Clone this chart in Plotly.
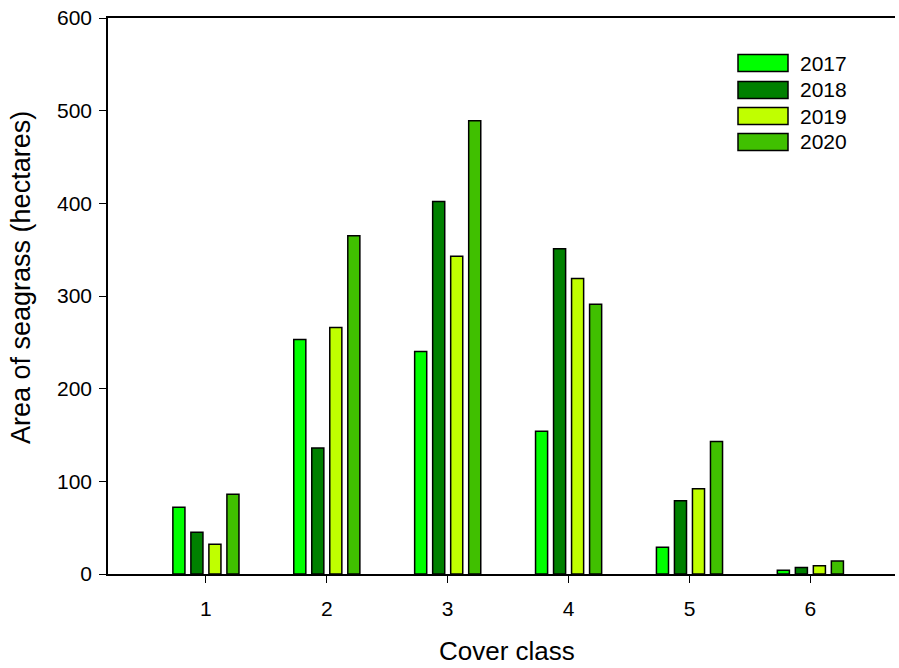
import plotly.graph_objects as go

cover_class = [1, 2, 3, 4, 5, 6]
years = ["2017", "2018", "2019", "2020"]
area_2017 = [72, 253, 240, 154, 29, 4]
area_2018 = [45, 136, 402, 351, 79, 7]
area_2019 = [32, 266, 343, 319, 92, 9]
area_2020 = [86, 365, 489, 291, 143, 14]
series = [area_2017, area_2018, area_2019, area_2020]
colors = ["#00FF00", "#008000", "#C0FF00", "#40C000"]
y_ticks = [0, 100, 200, 300, 400, 500, 600]

FONT = "Arial, Liberation Sans, sans-serif"
W, H = 899, 668
L, R, T, B = 108, 4, 18, 94

fig = go.Figure()
for name, vals, col in zip(years, series, colors):
    fig.add_trace(go.Bar(
        x=cover_class, y=vals, name=name,
        marker=dict(color=col, line=dict(color="black", width=1.5)),
        showlegend=False,
    ))

# custom legend (large rectangular swatches as in the reference)
pw, ph = W - L - R, H - T - B
def px(x):
    return (x - L) / pw
def py(y):
    return (H - B - y) / ph

row_centers = [63, 90, 116, 142]
shapes = []
annotations = []
for name, col, cy in zip(years, colors, row_centers):
    shapes.append(dict(type="rect", xref="paper", yref="paper",
                       x0=px(738), x1=px(788), y0=py(cy + 8.5), y1=py(cy - 8.5),
                       fillcolor=col, line=dict(color="black", width=1.5)))
    annotations.append(dict(text=name, xref="paper", yref="paper",
                            x=px(798), y=py(cy), xanchor="left", yanchor="middle",
                            showarrow=False, font=dict(family=FONT, size=21, color="black")))

annotations.append(dict(text="Cover class", xref="paper", yref="paper",
                        x=px(507), y=py(667), xanchor="center", yanchor="bottom",
                        borderpad=0,
                        showarrow=False, font=dict(family=FONT, size=26, color="black")))
annotations.append(dict(text="Area of seagrass (hectares)", xref="paper", yref="paper",
                        x=px(21), y=py(278), xanchor="center", yanchor="middle", textangle=-90,
                        showarrow=False, font=dict(family=FONT, size=27, color="black")))

fig.update_layout(
    width=W, height=H,
    margin=dict(l=L, r=R, t=T, b=B),
    paper_bgcolor="white", plot_bgcolor="white",
    barmode="group", bargap=0.404, bargroupgap=0.33,
    font=dict(family=FONT, size=21, color="black"),
    shapes=shapes, annotations=annotations,
    xaxis=dict(range=[0.19, 6.70], tickmode="array", tickvals=cover_class,
               ticktext=[str(c) for c in cover_class],
               showline=True, linecolor="black", linewidth=1.5, mirror=True,
               ticks="outside", ticklen=7, tickwidth=1.3, tickcolor="black",
               showgrid=False, zeroline=False, ticklabelstandoff=8,
               tickfont=dict(family=FONT, size=21, color="black")),
    yaxis=dict(range=[0, 600], tickmode="array", tickvals=y_ticks,
               showline=True, linecolor="black", linewidth=1.5,
               ticks="outside", ticklen=7, tickwidth=1.3, tickcolor="black",
               showgrid=False, zeroline=False, ticklabelstandoff=3,
               tickfont=dict(family=FONT, size=21, color="black")),
)

fig.write_html("out.html", config={"displayModeBar": False},
               post_script="document.body.style.margin='0';document.body.style.overflow='hidden';")
